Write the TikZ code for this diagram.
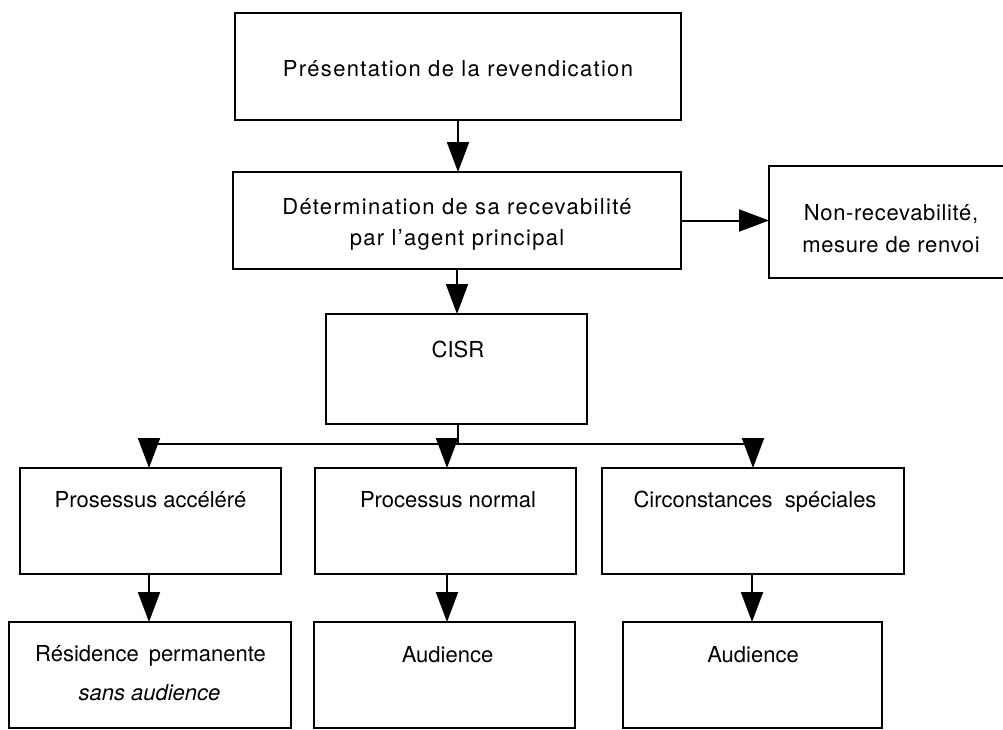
\documentclass[tikz,border=0pt]{standalone}
\usepackage{fontspec}
\setmainfont{TeX Gyre Heros}
\usetikzlibrary{arrows.meta}
\newfontfamily\widefont[LetterSpace=6]{TeX Gyre Heros}
\begin{document}
\begin{tikzpicture}[x=1pt,y=-1pt,
  bx/.style={draw, line width=2.4pt, inner sep=0pt, outer sep=0pt},
  tx/.style={anchor=base, inner sep=0pt, font=\fontsize{22}{29}\selectfont},
  wtx/.style={anchor=base, inner sep=0pt, font=\fontsize{22}{29}\selectfont\widefont},
  ln/.style={line width=2pt},
  arr/.style={line width=2pt, -{Triangle[length=30pt,width=22pt]}}]
\useasboundingbox (0,0) rectangle (1003,729);
% boxes
\node[bx, minimum width=446pt, minimum height=107pt] (b1) at (458,66.5) {};
\node[bx, minimum width=448pt, minimum height=97pt] (b2) at (457,220.5) {};
\node[bx, minimum width=244pt, minimum height=112pt] (b3) at (891,222) {};
\node[bx, minimum width=261pt, minimum height=110pt] (cisr) at (456.5,369) {};
\node[bx, minimum width=261pt, minimum height=106pt] (pa) at (150.5,521) {};
\node[bx, minimum width=261pt, minimum height=106pt] (pn) at (445.5,521) {};
\node[bx, minimum width=302pt, minimum height=106pt] (cs) at (753,521) {};
\node[bx, minimum width=282pt, minimum height=106pt] (rp) at (150,675) {};
\node[bx, minimum width=261pt, minimum height=106pt] (au1) at (444.5,675) {};
\node[bx, minimum width=259pt, minimum height=106pt] (au2) at (752.5,675) {};
% texts
\node[wtx] (t1) at (458,76) {Présentation de la revendication};
\node[wtx] (t2a) at (457,214) {Détermination de sa recevabilité};
\node[wtx] (t2b) at (457,245) {par l’agent principal};
\node[tx, font=\fontsize{22}{29}\selectfont\addfontfeature{LetterSpace=3}] (t3a) at (891,220) {Non-recevabilité,};
\node[tx, font=\fontsize{22}{29}\selectfont\addfontfeature{LetterSpace=3}] (t3b) at (891,252) {mesure de renvoi};
\node[tx] (tc) at (458,357) {CISR};
\node[tx] (tpa) at (150.5,507) {Prosessus accéléré};
\node[tx] (tpn) at (448,507) {Processus normal};
\node[tx] (tcs) at (755,507) {Circonstances\hspace{0.55em}spéciales};
\node[tx] (trp) at (150.5,661) {Résidence\hspace{0.45em}permanente};
\node[tx] (trp2) at (149.5,700) {\itshape sans audience};
\node[tx] (tau1) at (447.5,662) {Audience};
\node[tx] (tau2) at (753,662) {Audience};
% connectors
\draw[arr] (b1.south) -- (b1.south |- b2.north);
\draw[arr] (b2.east) -- (b2.east -| b3.west);
\draw[arr] (b2.south) -- (b2.south |- cisr.north);
\coordinate (j) at (458,444);
\coordinate (ja) at (149,444);
\coordinate (jb) at (447,444);
\coordinate (jc) at (753,444);
\draw[ln] (cisr.south -| j) -- (j);
\draw[ln] (ja) -- (jc);
\draw[arr] (ja) -- (ja |- pa.north);
\draw[arr] (jb) -- (jb |- pn.north);
\draw[arr] (jc) -- (jc |- cs.north);
\coordinate (ka) at (149,574);
\coordinate (kb) at (447,574);
\coordinate (kc) at (752,574);
\draw[arr] (ka) -- (ka |- rp.north);
\draw[arr] (kb) -- (kb |- au1.north);
\draw[arr] (kc) -- (kc |- au2.north);
\end{tikzpicture}
\end{document}
